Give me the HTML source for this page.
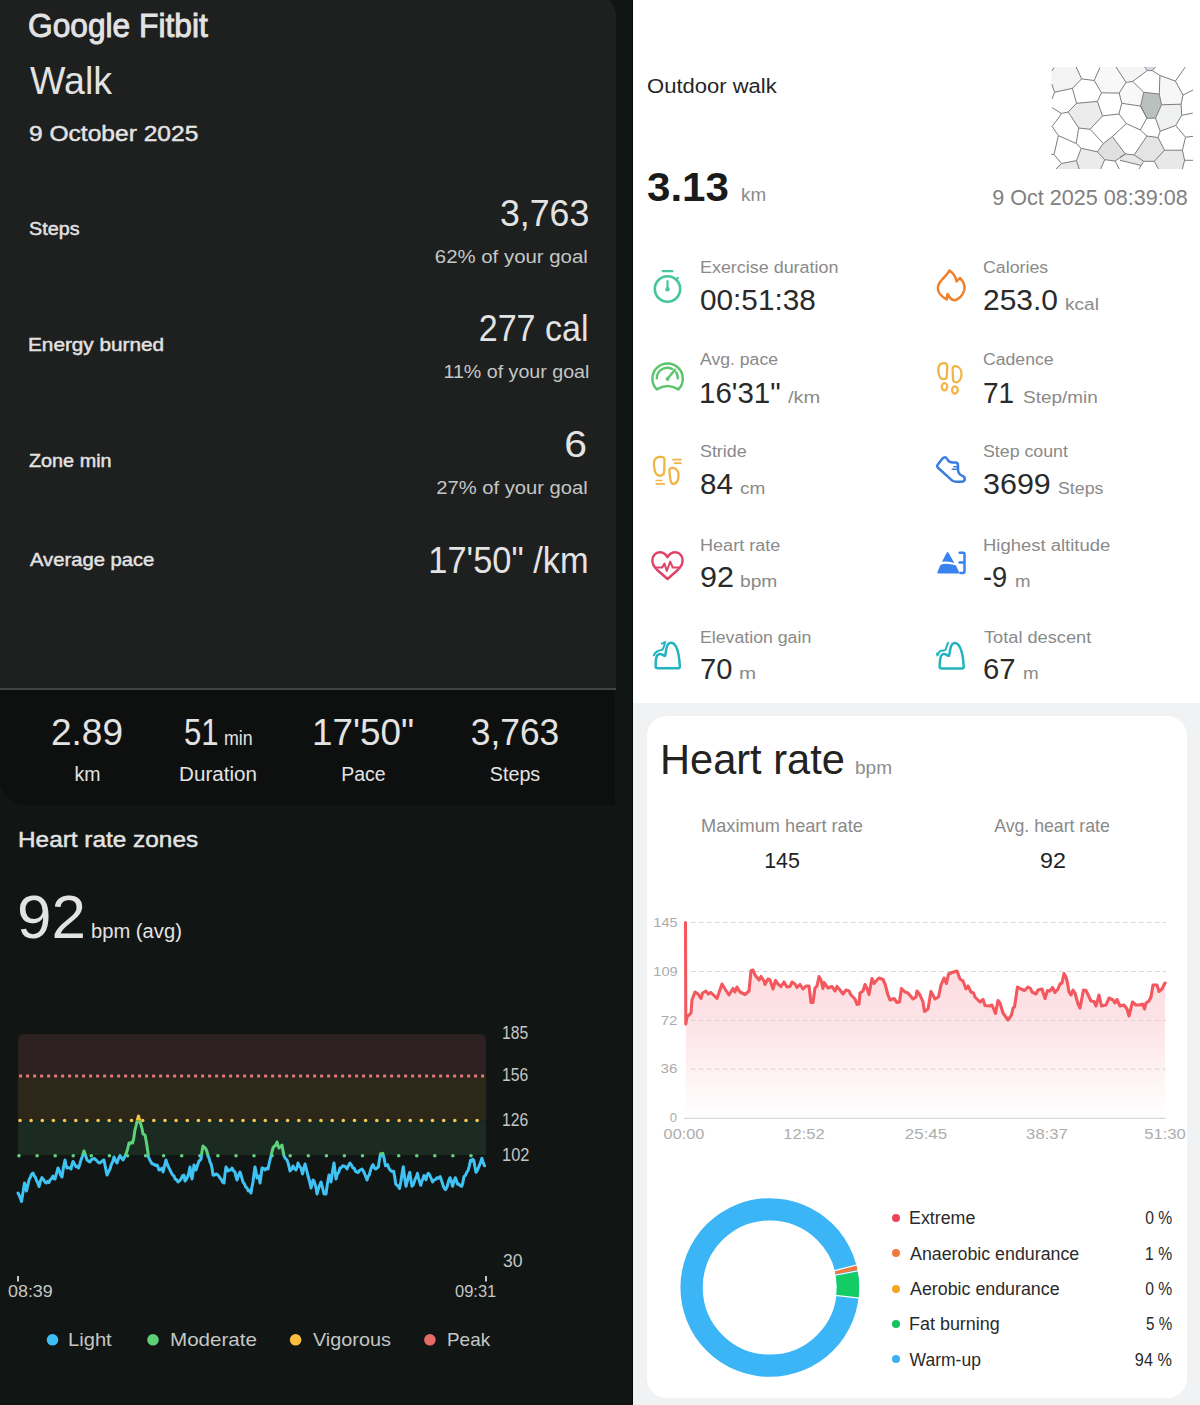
<!DOCTYPE html>
<html><head><meta charset="utf-8"><title>Walk</title><style>
*{margin:0;padding:0;box-sizing:border-box}
html,body{width:1200px;height:1405px;overflow:hidden;background:#fff}
body{position:relative;font-family:"Liberation Sans",Arial,sans-serif}
.abs{position:absolute;display:block}
.t{position:absolute;white-space:nowrap}
</style></head>
<body>
<div class="abs" style="left:0;top:0;width:633px;height:1405px;background:#111514"></div>
<div class="abs" style="left:0;top:-6px;width:616px;height:694px;background:#1e1f1f;border-top-right-radius:22px"></div>
<div class="abs" style="left:0;top:688px;width:616px;height:2px;background:#3e4543"></div>
<div class="abs" style="left:0;top:690px;width:615px;height:115px;background:#0d100f;border-bottom-left-radius:26px"></div>
<div class="abs" style="left:632px;top:0;width:1px;height:1405px;background:#050606"></div>
<div class="abs" style="left:633px;top:0;width:567px;height:703px;background:#ffffff"></div>
<div class="abs" style="left:633px;top:703px;width:567px;height:702px;background:#f1f2f4"></div>
<div class="abs" style="left:646.5px;top:716.2px;width:540.5px;height:682.3px;background:#ffffff;border-radius:20px"></div>
<svg class="abs" style="left:0;top:0" width="633" height="1405" viewBox="0 0 633 1405">
<defs><clipPath id="cb"><rect x="0" y="1155" width="633" height="250"/></clipPath><clipPath id="cg"><rect x="0" y="1120.5" width="633" height="34.5"/></clipPath><clipPath id="cy"><rect x="0" y="1000" width="633" height="120.5"/></clipPath><clipPath id="band"><rect x="18" y="1034" width="468" height="160" rx="6"/></clipPath></defs>
<g clip-path="url(#band)">
<rect x="18" y="1034" width="468" height="42" fill="#2c2020"/>
<rect x="18" y="1076" width="468" height="44.5" fill="#2c2719"/>
<rect x="18" y="1120.5" width="468" height="34.5" fill="#1b2b22"/>
</g>
<rect x="19.1" y="1074.6" width="3" height="3" rx="0.6" fill="#e2787b"/>
<rect x="26.1" y="1074.6" width="3" height="3" rx="0.6" fill="#e2787b"/>
<rect x="33.1" y="1074.6" width="3" height="3" rx="0.6" fill="#e2787b"/>
<rect x="40.1" y="1074.6" width="3" height="3" rx="0.6" fill="#e2787b"/>
<rect x="47.1" y="1074.6" width="3" height="3" rx="0.6" fill="#e2787b"/>
<rect x="54.1" y="1074.6" width="3" height="3" rx="0.6" fill="#e2787b"/>
<rect x="61.1" y="1074.6" width="3" height="3" rx="0.6" fill="#e2787b"/>
<rect x="68.1" y="1074.6" width="3" height="3" rx="0.6" fill="#e2787b"/>
<rect x="75.1" y="1074.6" width="3" height="3" rx="0.6" fill="#e2787b"/>
<rect x="82.1" y="1074.6" width="3" height="3" rx="0.6" fill="#e2787b"/>
<rect x="89.1" y="1074.6" width="3" height="3" rx="0.6" fill="#e2787b"/>
<rect x="96.1" y="1074.6" width="3" height="3" rx="0.6" fill="#e2787b"/>
<rect x="103.1" y="1074.6" width="3" height="3" rx="0.6" fill="#e2787b"/>
<rect x="110.1" y="1074.6" width="3" height="3" rx="0.6" fill="#e2787b"/>
<rect x="117.1" y="1074.6" width="3" height="3" rx="0.6" fill="#e2787b"/>
<rect x="124.1" y="1074.6" width="3" height="3" rx="0.6" fill="#e2787b"/>
<rect x="131.1" y="1074.6" width="3" height="3" rx="0.6" fill="#e2787b"/>
<rect x="138.1" y="1074.6" width="3" height="3" rx="0.6" fill="#e2787b"/>
<rect x="145.1" y="1074.6" width="3" height="3" rx="0.6" fill="#e2787b"/>
<rect x="152.1" y="1074.6" width="3" height="3" rx="0.6" fill="#e2787b"/>
<rect x="159.1" y="1074.6" width="3" height="3" rx="0.6" fill="#e2787b"/>
<rect x="166.1" y="1074.6" width="3" height="3" rx="0.6" fill="#e2787b"/>
<rect x="173.1" y="1074.6" width="3" height="3" rx="0.6" fill="#e2787b"/>
<rect x="180.1" y="1074.6" width="3" height="3" rx="0.6" fill="#e2787b"/>
<rect x="187.1" y="1074.6" width="3" height="3" rx="0.6" fill="#e2787b"/>
<rect x="194.1" y="1074.6" width="3" height="3" rx="0.6" fill="#e2787b"/>
<rect x="201.1" y="1074.6" width="3" height="3" rx="0.6" fill="#e2787b"/>
<rect x="208.1" y="1074.6" width="3" height="3" rx="0.6" fill="#e2787b"/>
<rect x="215.1" y="1074.6" width="3" height="3" rx="0.6" fill="#e2787b"/>
<rect x="222.1" y="1074.6" width="3" height="3" rx="0.6" fill="#e2787b"/>
<rect x="229.1" y="1074.6" width="3" height="3" rx="0.6" fill="#e2787b"/>
<rect x="236.1" y="1074.6" width="3" height="3" rx="0.6" fill="#e2787b"/>
<rect x="243.1" y="1074.6" width="3" height="3" rx="0.6" fill="#e2787b"/>
<rect x="250.1" y="1074.6" width="3" height="3" rx="0.6" fill="#e2787b"/>
<rect x="257.1" y="1074.6" width="3" height="3" rx="0.6" fill="#e2787b"/>
<rect x="264.1" y="1074.6" width="3" height="3" rx="0.6" fill="#e2787b"/>
<rect x="271.1" y="1074.6" width="3" height="3" rx="0.6" fill="#e2787b"/>
<rect x="278.1" y="1074.6" width="3" height="3" rx="0.6" fill="#e2787b"/>
<rect x="285.1" y="1074.6" width="3" height="3" rx="0.6" fill="#e2787b"/>
<rect x="292.1" y="1074.6" width="3" height="3" rx="0.6" fill="#e2787b"/>
<rect x="299.1" y="1074.6" width="3" height="3" rx="0.6" fill="#e2787b"/>
<rect x="306.1" y="1074.6" width="3" height="3" rx="0.6" fill="#e2787b"/>
<rect x="313.1" y="1074.6" width="3" height="3" rx="0.6" fill="#e2787b"/>
<rect x="320.1" y="1074.6" width="3" height="3" rx="0.6" fill="#e2787b"/>
<rect x="327.1" y="1074.6" width="3" height="3" rx="0.6" fill="#e2787b"/>
<rect x="334.1" y="1074.6" width="3" height="3" rx="0.6" fill="#e2787b"/>
<rect x="341.1" y="1074.6" width="3" height="3" rx="0.6" fill="#e2787b"/>
<rect x="348.1" y="1074.6" width="3" height="3" rx="0.6" fill="#e2787b"/>
<rect x="355.1" y="1074.6" width="3" height="3" rx="0.6" fill="#e2787b"/>
<rect x="362.1" y="1074.6" width="3" height="3" rx="0.6" fill="#e2787b"/>
<rect x="369.1" y="1074.6" width="3" height="3" rx="0.6" fill="#e2787b"/>
<rect x="376.1" y="1074.6" width="3" height="3" rx="0.6" fill="#e2787b"/>
<rect x="383.1" y="1074.6" width="3" height="3" rx="0.6" fill="#e2787b"/>
<rect x="390.1" y="1074.6" width="3" height="3" rx="0.6" fill="#e2787b"/>
<rect x="397.1" y="1074.6" width="3" height="3" rx="0.6" fill="#e2787b"/>
<rect x="404.1" y="1074.6" width="3" height="3" rx="0.6" fill="#e2787b"/>
<rect x="411.1" y="1074.6" width="3" height="3" rx="0.6" fill="#e2787b"/>
<rect x="418.1" y="1074.6" width="3" height="3" rx="0.6" fill="#e2787b"/>
<rect x="425.1" y="1074.6" width="3" height="3" rx="0.6" fill="#e2787b"/>
<rect x="432.1" y="1074.6" width="3" height="3" rx="0.6" fill="#e2787b"/>
<rect x="439.1" y="1074.6" width="3" height="3" rx="0.6" fill="#e2787b"/>
<rect x="446.1" y="1074.6" width="3" height="3" rx="0.6" fill="#e2787b"/>
<rect x="453.1" y="1074.6" width="3" height="3" rx="0.6" fill="#e2787b"/>
<rect x="460.1" y="1074.6" width="3" height="3" rx="0.6" fill="#e2787b"/>
<rect x="467.1" y="1074.6" width="3" height="3" rx="0.6" fill="#e2787b"/>
<rect x="474.1" y="1074.6" width="3" height="3" rx="0.6" fill="#e2787b"/>
<rect x="481.1" y="1074.6" width="3" height="3" rx="0.6" fill="#e2787b"/>
<circle cx="20.0" cy="1120.5" r="1.8" fill="#f4c652"/>
<circle cx="31.1" cy="1120.5" r="1.8" fill="#f4c652"/>
<circle cx="42.3" cy="1120.5" r="1.8" fill="#f4c652"/>
<circle cx="53.4" cy="1120.5" r="1.8" fill="#f4c652"/>
<circle cx="64.6" cy="1120.5" r="1.8" fill="#f4c652"/>
<circle cx="75.8" cy="1120.5" r="1.8" fill="#f4c652"/>
<circle cx="86.9" cy="1120.5" r="1.8" fill="#f4c652"/>
<circle cx="98.1" cy="1120.5" r="1.8" fill="#f4c652"/>
<circle cx="109.2" cy="1120.5" r="1.8" fill="#f4c652"/>
<circle cx="120.4" cy="1120.5" r="1.8" fill="#f4c652"/>
<circle cx="131.5" cy="1120.5" r="1.8" fill="#f4c652"/>
<circle cx="142.7" cy="1120.5" r="1.8" fill="#f4c652"/>
<circle cx="153.8" cy="1120.5" r="1.8" fill="#f4c652"/>
<circle cx="165.0" cy="1120.5" r="1.8" fill="#f4c652"/>
<circle cx="176.1" cy="1120.5" r="1.8" fill="#f4c652"/>
<circle cx="187.3" cy="1120.5" r="1.8" fill="#f4c652"/>
<circle cx="198.4" cy="1120.5" r="1.8" fill="#f4c652"/>
<circle cx="209.6" cy="1120.5" r="1.8" fill="#f4c652"/>
<circle cx="220.7" cy="1120.5" r="1.8" fill="#f4c652"/>
<circle cx="231.9" cy="1120.5" r="1.8" fill="#f4c652"/>
<circle cx="243.0" cy="1120.5" r="1.8" fill="#f4c652"/>
<circle cx="254.2" cy="1120.5" r="1.8" fill="#f4c652"/>
<circle cx="265.3" cy="1120.5" r="1.8" fill="#f4c652"/>
<circle cx="276.5" cy="1120.5" r="1.8" fill="#f4c652"/>
<circle cx="287.6" cy="1120.5" r="1.8" fill="#f4c652"/>
<circle cx="298.8" cy="1120.5" r="1.8" fill="#f4c652"/>
<circle cx="309.9" cy="1120.5" r="1.8" fill="#f4c652"/>
<circle cx="321.0" cy="1120.5" r="1.8" fill="#f4c652"/>
<circle cx="332.2" cy="1120.5" r="1.8" fill="#f4c652"/>
<circle cx="343.3" cy="1120.5" r="1.8" fill="#f4c652"/>
<circle cx="354.5" cy="1120.5" r="1.8" fill="#f4c652"/>
<circle cx="365.6" cy="1120.5" r="1.8" fill="#f4c652"/>
<circle cx="376.8" cy="1120.5" r="1.8" fill="#f4c652"/>
<circle cx="387.9" cy="1120.5" r="1.8" fill="#f4c652"/>
<circle cx="399.1" cy="1120.5" r="1.8" fill="#f4c652"/>
<circle cx="410.2" cy="1120.5" r="1.8" fill="#f4c652"/>
<circle cx="421.4" cy="1120.5" r="1.8" fill="#f4c652"/>
<circle cx="432.5" cy="1120.5" r="1.8" fill="#f4c652"/>
<circle cx="443.7" cy="1120.5" r="1.8" fill="#f4c652"/>
<circle cx="454.8" cy="1120.5" r="1.8" fill="#f4c652"/>
<circle cx="466.0" cy="1120.5" r="1.8" fill="#f4c652"/>
<circle cx="477.1" cy="1120.5" r="1.8" fill="#f4c652"/>
<circle cx="19.0" cy="1155.7" r="1.8" fill="#62d07c"/>
<circle cx="37.1" cy="1155.7" r="1.8" fill="#62d07c"/>
<circle cx="55.2" cy="1155.7" r="1.8" fill="#62d07c"/>
<circle cx="73.2" cy="1155.7" r="1.8" fill="#62d07c"/>
<circle cx="91.3" cy="1155.7" r="1.8" fill="#62d07c"/>
<circle cx="109.4" cy="1155.7" r="1.8" fill="#62d07c"/>
<circle cx="127.5" cy="1155.7" r="1.8" fill="#62d07c"/>
<circle cx="145.6" cy="1155.7" r="1.8" fill="#62d07c"/>
<circle cx="163.6" cy="1155.7" r="1.8" fill="#62d07c"/>
<circle cx="181.7" cy="1155.7" r="1.8" fill="#62d07c"/>
<circle cx="199.8" cy="1155.7" r="1.8" fill="#62d07c"/>
<circle cx="217.9" cy="1155.7" r="1.8" fill="#62d07c"/>
<circle cx="236.0" cy="1155.7" r="1.8" fill="#62d07c"/>
<circle cx="254.0" cy="1155.7" r="1.8" fill="#62d07c"/>
<circle cx="272.1" cy="1155.7" r="1.8" fill="#62d07c"/>
<circle cx="290.2" cy="1155.7" r="1.8" fill="#62d07c"/>
<circle cx="308.3" cy="1155.7" r="1.8" fill="#62d07c"/>
<circle cx="326.4" cy="1155.7" r="1.8" fill="#62d07c"/>
<circle cx="344.4" cy="1155.7" r="1.8" fill="#62d07c"/>
<circle cx="362.5" cy="1155.7" r="1.8" fill="#62d07c"/>
<circle cx="380.6" cy="1155.7" r="1.8" fill="#62d07c"/>
<circle cx="398.7" cy="1155.7" r="1.8" fill="#62d07c"/>
<circle cx="416.8" cy="1155.7" r="1.8" fill="#62d07c"/>
<circle cx="434.8" cy="1155.7" r="1.8" fill="#62d07c"/>
<circle cx="452.9" cy="1155.7" r="1.8" fill="#62d07c"/>
<circle cx="471.0" cy="1155.7" r="1.8" fill="#62d07c"/>
<polyline clip-path="url(#cb)" points="18.0,1193.0 19.2,1195.4 20.3,1197.8 21.5,1201.5 23.0,1192.6 24.5,1183.0 25.5,1185.9 26.5,1191.0 27.8,1185.6 29.0,1180.0 30.3,1177.3 31.7,1174.2 33.0,1173.0 34.2,1175.7 35.4,1177.2 36.6,1180.9 37.8,1182.7 39.0,1186.5 40.5,1180.9 42.0,1177.5 43.5,1179.6 45.0,1182.0 46.3,1183.0 47.7,1181.4 49.0,1182.5 50.3,1179.6 51.7,1178.5 53.0,1176.0 54.0,1178.7 55.0,1179.0 56.5,1173.7 58.0,1168.0 59.3,1170.7 60.7,1175.2 62.0,1177.0 63.5,1167.3 65.0,1160.0 66.0,1164.9 67.0,1168.0 68.3,1167.8 69.7,1167.7 71.0,1169.0 72.0,1164.3 73.0,1161.5 74.0,1162.8 75.0,1165.0 76.2,1166.8 77.3,1166.2 78.5,1168.0 79.8,1164.2 81.0,1160.0 82.5,1155.9 84.0,1151.0 85.5,1155.2 87.0,1160.0 88.5,1161.1 90.0,1162.0 91.5,1159.4 93.0,1159.0 94.3,1158.5 95.7,1159.6 97.0,1161.0 98.5,1162.5 100.0,1163.0 101.3,1161.8 102.7,1160.5 104.0,1160.0 105.5,1167.7 107.0,1175.0 108.5,1171.9 110.0,1169.0 111.3,1164.5 112.7,1161.8 114.0,1157.0 115.5,1160.5 117.0,1163.0 118.5,1158.6 120.0,1155.5 121.5,1157.9 123.0,1160.0 124.5,1157.1 126.0,1154.0 127.5,1149.5 129.0,1143.0 130.2,1143.6 131.3,1142.4 132.5,1143.0 133.7,1138.6 134.8,1130.7 136.0,1126.0 137.2,1120.8 138.5,1116.0 139.8,1121.2 141.0,1125.0 142.0,1128.6 143.0,1134.0 144.0,1134.5 145.0,1135.0 146.5,1142.8 148.0,1153.0 148.5,1157.0 149.8,1159.9 151.0,1162.0 152.0,1163.7 153.0,1164.0 154.3,1164.5 155.7,1165.6 157.0,1165.0 158.0,1167.0 159.0,1170.0 160.5,1169.5 162.0,1168.0 163.0,1172.0 164.5,1166.2 166.0,1160.0 167.0,1163.2 168.0,1166.0 169.5,1168.9 171.0,1172.0 172.5,1174.9 174.0,1176.0 175.3,1179.2 176.7,1179.9 178.0,1182.0 179.5,1180.9 181.0,1179.0 182.5,1175.9 184.0,1175.0 185.0,1181.0 186.5,1179.0 188.0,1176.0 189.0,1171.9 190.0,1167.0 191.0,1174.3 192.0,1179.0 193.0,1172.8 194.0,1165.0 195.0,1166.9 196.0,1170.0 197.5,1165.2 199.0,1161.0 200.0,1160.4 201.0,1159.0 202.0,1151.3 203.0,1146.0 204.5,1147.4 206.0,1149.0 207.0,1151.6 208.0,1156.0 209.0,1158.0 210.0,1162.0 211.0,1163.9 212.0,1168.0 213.0,1175.0 214.5,1175.2 216.0,1174.0 217.3,1174.4 218.7,1176.0 220.0,1178.0 221.3,1179.4 222.7,1182.3 224.0,1183.0 225.0,1173.9 226.0,1167.0 227.0,1168.9 228.0,1171.0 229.3,1170.1 230.7,1170.0 232.0,1168.0 233.5,1170.8 235.0,1172.0 236.0,1176.9 237.0,1180.0 238.5,1175.4 240.0,1172.0 241.5,1176.8 243.0,1182.0 244.3,1183.6 245.7,1187.0 247.0,1188.0 248.3,1190.9 249.7,1190.4 251.0,1193.0 252.0,1186.7 253.0,1182.0 254.0,1173.8 255.0,1167.0 256.0,1171.8 257.0,1178.0 258.0,1177.0 259.0,1176.0 260.0,1183.0 261.0,1175.7 262.0,1168.0 263.5,1168.4 265.0,1170.0 266.5,1168.2 268.0,1169.0 269.0,1164.3 270.0,1160.0 271.5,1153.7 273.0,1148.0 274.3,1146.2 275.7,1145.2 277.0,1142.0 278.0,1145.5 279.0,1148.0 280.5,1146.5 282.0,1145.0 283.0,1150.8 284.0,1156.0 285.5,1158.5 287.0,1160.0 288.5,1164.3 290.0,1171.0 291.5,1169.5 293.0,1166.0 294.5,1168.7 296.0,1170.0 297.0,1167.5 298.0,1163.0 299.5,1166.3 301.0,1168.0 302.5,1174.0 303.8,1168.7 305.0,1164.0 306.5,1169.7 308.0,1176.0 309.5,1181.0 311.0,1188.0 312.0,1184.3 313.0,1180.0 314.0,1180.9 315.0,1184.0 316.0,1187.9 317.0,1194.0 318.3,1189.2 319.7,1185.1 321.0,1182.0 322.5,1187.6 324.0,1194.0 325.0,1192.8 326.0,1194.0 327.5,1183.2 329.0,1175.0 330.0,1177.6 331.0,1182.0 332.5,1171.5 334.0,1163.0 335.0,1170.6 336.0,1179.0 337.3,1174.1 338.7,1172.6 340.0,1168.0 341.3,1167.6 342.7,1165.8 344.0,1166.0 345.5,1166.9 347.0,1169.0 348.5,1165.6 350.0,1163.0 351.5,1165.1 353.0,1168.0 354.3,1168.4 355.7,1171.6 357.0,1172.0 358.2,1172.5 359.5,1170.4 360.8,1169.7 362.0,1169.0 363.2,1170.7 364.5,1173.5 365.8,1176.8 367.0,1180.0 368.2,1176.3 369.4,1174.7 370.6,1169.9 371.8,1166.5 373.0,1164.7 374.4,1168.0 375.7,1169.0 377.0,1168.0 378.4,1166.8 379.5,1159.4 380.6,1153.8 381.7,1153.7 382.8,1153.3 384.1,1158.3 385.5,1165.8 386.6,1165.3 387.6,1164.7 389.0,1168.6 390.3,1170.0 391.4,1171.3 392.5,1171.3 393.6,1171.2 394.7,1177.1 395.8,1184.2 397.0,1185.3 398.3,1186.2 399.5,1188.5 400.8,1182.0 402.0,1174.1 403.3,1166.8 404.6,1177.3 406.0,1186.3 407.3,1181.2 408.5,1176.2 409.8,1172.3 410.9,1180.1 412.0,1186.3 413.1,1185.1 414.2,1182.2 415.3,1178.8 416.4,1176.8 417.4,1173.3 418.5,1178.1 419.6,1181.9 420.7,1185.3 421.8,1181.3 422.9,1178.8 424.0,1175.5 425.0,1177.3 426.0,1179.8 427.1,1175.3 428.3,1173.3 429.7,1175.0 431.2,1178.5 432.6,1182.0 434.1,1179.9 435.5,1179.6 437.0,1177.7 438.6,1178.3 440.2,1176.6 441.2,1179.7 442.3,1183.0 443.4,1186.3 444.5,1188.7 445.6,1189.6 447.1,1186.8 448.5,1181.3 450.0,1177.7 451.3,1181.3 452.6,1186.3 454.0,1181.3 455.3,1177.7 456.4,1180.2 457.5,1184.2 458.9,1184.1 460.4,1185.9 461.8,1186.3 462.9,1182.5 464.0,1176.6 465.4,1175.3 466.9,1172.1 468.3,1170.0 469.4,1165.5 470.5,1160.3 471.6,1161.1 472.7,1159.2 473.8,1160.3 474.9,1166.7 476.0,1172.3 477.6,1170.1 479.2,1165.8 480.5,1162.7 481.9,1158.2 483.2,1162.7 484.6,1165.8" fill="none" stroke="#3fc3f4" stroke-width="3.0" stroke-linejoin="round" stroke-linecap="round"/>
<polyline clip-path="url(#cg)" points="18.0,1193.0 19.2,1195.4 20.3,1197.8 21.5,1201.5 23.0,1192.6 24.5,1183.0 25.5,1185.9 26.5,1191.0 27.8,1185.6 29.0,1180.0 30.3,1177.3 31.7,1174.2 33.0,1173.0 34.2,1175.7 35.4,1177.2 36.6,1180.9 37.8,1182.7 39.0,1186.5 40.5,1180.9 42.0,1177.5 43.5,1179.6 45.0,1182.0 46.3,1183.0 47.7,1181.4 49.0,1182.5 50.3,1179.6 51.7,1178.5 53.0,1176.0 54.0,1178.7 55.0,1179.0 56.5,1173.7 58.0,1168.0 59.3,1170.7 60.7,1175.2 62.0,1177.0 63.5,1167.3 65.0,1160.0 66.0,1164.9 67.0,1168.0 68.3,1167.8 69.7,1167.7 71.0,1169.0 72.0,1164.3 73.0,1161.5 74.0,1162.8 75.0,1165.0 76.2,1166.8 77.3,1166.2 78.5,1168.0 79.8,1164.2 81.0,1160.0 82.5,1155.9 84.0,1151.0 85.5,1155.2 87.0,1160.0 88.5,1161.1 90.0,1162.0 91.5,1159.4 93.0,1159.0 94.3,1158.5 95.7,1159.6 97.0,1161.0 98.5,1162.5 100.0,1163.0 101.3,1161.8 102.7,1160.5 104.0,1160.0 105.5,1167.7 107.0,1175.0 108.5,1171.9 110.0,1169.0 111.3,1164.5 112.7,1161.8 114.0,1157.0 115.5,1160.5 117.0,1163.0 118.5,1158.6 120.0,1155.5 121.5,1157.9 123.0,1160.0 124.5,1157.1 126.0,1154.0 127.5,1149.5 129.0,1143.0 130.2,1143.6 131.3,1142.4 132.5,1143.0 133.7,1138.6 134.8,1130.7 136.0,1126.0 137.2,1120.8 138.5,1116.0 139.8,1121.2 141.0,1125.0 142.0,1128.6 143.0,1134.0 144.0,1134.5 145.0,1135.0 146.5,1142.8 148.0,1153.0 148.5,1157.0 149.8,1159.9 151.0,1162.0 152.0,1163.7 153.0,1164.0 154.3,1164.5 155.7,1165.6 157.0,1165.0 158.0,1167.0 159.0,1170.0 160.5,1169.5 162.0,1168.0 163.0,1172.0 164.5,1166.2 166.0,1160.0 167.0,1163.2 168.0,1166.0 169.5,1168.9 171.0,1172.0 172.5,1174.9 174.0,1176.0 175.3,1179.2 176.7,1179.9 178.0,1182.0 179.5,1180.9 181.0,1179.0 182.5,1175.9 184.0,1175.0 185.0,1181.0 186.5,1179.0 188.0,1176.0 189.0,1171.9 190.0,1167.0 191.0,1174.3 192.0,1179.0 193.0,1172.8 194.0,1165.0 195.0,1166.9 196.0,1170.0 197.5,1165.2 199.0,1161.0 200.0,1160.4 201.0,1159.0 202.0,1151.3 203.0,1146.0 204.5,1147.4 206.0,1149.0 207.0,1151.6 208.0,1156.0 209.0,1158.0 210.0,1162.0 211.0,1163.9 212.0,1168.0 213.0,1175.0 214.5,1175.2 216.0,1174.0 217.3,1174.4 218.7,1176.0 220.0,1178.0 221.3,1179.4 222.7,1182.3 224.0,1183.0 225.0,1173.9 226.0,1167.0 227.0,1168.9 228.0,1171.0 229.3,1170.1 230.7,1170.0 232.0,1168.0 233.5,1170.8 235.0,1172.0 236.0,1176.9 237.0,1180.0 238.5,1175.4 240.0,1172.0 241.5,1176.8 243.0,1182.0 244.3,1183.6 245.7,1187.0 247.0,1188.0 248.3,1190.9 249.7,1190.4 251.0,1193.0 252.0,1186.7 253.0,1182.0 254.0,1173.8 255.0,1167.0 256.0,1171.8 257.0,1178.0 258.0,1177.0 259.0,1176.0 260.0,1183.0 261.0,1175.7 262.0,1168.0 263.5,1168.4 265.0,1170.0 266.5,1168.2 268.0,1169.0 269.0,1164.3 270.0,1160.0 271.5,1153.7 273.0,1148.0 274.3,1146.2 275.7,1145.2 277.0,1142.0 278.0,1145.5 279.0,1148.0 280.5,1146.5 282.0,1145.0 283.0,1150.8 284.0,1156.0 285.5,1158.5 287.0,1160.0 288.5,1164.3 290.0,1171.0 291.5,1169.5 293.0,1166.0 294.5,1168.7 296.0,1170.0 297.0,1167.5 298.0,1163.0 299.5,1166.3 301.0,1168.0 302.5,1174.0 303.8,1168.7 305.0,1164.0 306.5,1169.7 308.0,1176.0 309.5,1181.0 311.0,1188.0 312.0,1184.3 313.0,1180.0 314.0,1180.9 315.0,1184.0 316.0,1187.9 317.0,1194.0 318.3,1189.2 319.7,1185.1 321.0,1182.0 322.5,1187.6 324.0,1194.0 325.0,1192.8 326.0,1194.0 327.5,1183.2 329.0,1175.0 330.0,1177.6 331.0,1182.0 332.5,1171.5 334.0,1163.0 335.0,1170.6 336.0,1179.0 337.3,1174.1 338.7,1172.6 340.0,1168.0 341.3,1167.6 342.7,1165.8 344.0,1166.0 345.5,1166.9 347.0,1169.0 348.5,1165.6 350.0,1163.0 351.5,1165.1 353.0,1168.0 354.3,1168.4 355.7,1171.6 357.0,1172.0 358.2,1172.5 359.5,1170.4 360.8,1169.7 362.0,1169.0 363.2,1170.7 364.5,1173.5 365.8,1176.8 367.0,1180.0 368.2,1176.3 369.4,1174.7 370.6,1169.9 371.8,1166.5 373.0,1164.7 374.4,1168.0 375.7,1169.0 377.0,1168.0 378.4,1166.8 379.5,1159.4 380.6,1153.8 381.7,1153.7 382.8,1153.3 384.1,1158.3 385.5,1165.8 386.6,1165.3 387.6,1164.7 389.0,1168.6 390.3,1170.0 391.4,1171.3 392.5,1171.3 393.6,1171.2 394.7,1177.1 395.8,1184.2 397.0,1185.3 398.3,1186.2 399.5,1188.5 400.8,1182.0 402.0,1174.1 403.3,1166.8 404.6,1177.3 406.0,1186.3 407.3,1181.2 408.5,1176.2 409.8,1172.3 410.9,1180.1 412.0,1186.3 413.1,1185.1 414.2,1182.2 415.3,1178.8 416.4,1176.8 417.4,1173.3 418.5,1178.1 419.6,1181.9 420.7,1185.3 421.8,1181.3 422.9,1178.8 424.0,1175.5 425.0,1177.3 426.0,1179.8 427.1,1175.3 428.3,1173.3 429.7,1175.0 431.2,1178.5 432.6,1182.0 434.1,1179.9 435.5,1179.6 437.0,1177.7 438.6,1178.3 440.2,1176.6 441.2,1179.7 442.3,1183.0 443.4,1186.3 444.5,1188.7 445.6,1189.6 447.1,1186.8 448.5,1181.3 450.0,1177.7 451.3,1181.3 452.6,1186.3 454.0,1181.3 455.3,1177.7 456.4,1180.2 457.5,1184.2 458.9,1184.1 460.4,1185.9 461.8,1186.3 462.9,1182.5 464.0,1176.6 465.4,1175.3 466.9,1172.1 468.3,1170.0 469.4,1165.5 470.5,1160.3 471.6,1161.1 472.7,1159.2 473.8,1160.3 474.9,1166.7 476.0,1172.3 477.6,1170.1 479.2,1165.8 480.5,1162.7 481.9,1158.2 483.2,1162.7 484.6,1165.8" fill="none" stroke="#5ed27a" stroke-width="3.0" stroke-linejoin="round" stroke-linecap="round"/>
<polyline clip-path="url(#cy)" points="18.0,1193.0 19.2,1195.4 20.3,1197.8 21.5,1201.5 23.0,1192.6 24.5,1183.0 25.5,1185.9 26.5,1191.0 27.8,1185.6 29.0,1180.0 30.3,1177.3 31.7,1174.2 33.0,1173.0 34.2,1175.7 35.4,1177.2 36.6,1180.9 37.8,1182.7 39.0,1186.5 40.5,1180.9 42.0,1177.5 43.5,1179.6 45.0,1182.0 46.3,1183.0 47.7,1181.4 49.0,1182.5 50.3,1179.6 51.7,1178.5 53.0,1176.0 54.0,1178.7 55.0,1179.0 56.5,1173.7 58.0,1168.0 59.3,1170.7 60.7,1175.2 62.0,1177.0 63.5,1167.3 65.0,1160.0 66.0,1164.9 67.0,1168.0 68.3,1167.8 69.7,1167.7 71.0,1169.0 72.0,1164.3 73.0,1161.5 74.0,1162.8 75.0,1165.0 76.2,1166.8 77.3,1166.2 78.5,1168.0 79.8,1164.2 81.0,1160.0 82.5,1155.9 84.0,1151.0 85.5,1155.2 87.0,1160.0 88.5,1161.1 90.0,1162.0 91.5,1159.4 93.0,1159.0 94.3,1158.5 95.7,1159.6 97.0,1161.0 98.5,1162.5 100.0,1163.0 101.3,1161.8 102.7,1160.5 104.0,1160.0 105.5,1167.7 107.0,1175.0 108.5,1171.9 110.0,1169.0 111.3,1164.5 112.7,1161.8 114.0,1157.0 115.5,1160.5 117.0,1163.0 118.5,1158.6 120.0,1155.5 121.5,1157.9 123.0,1160.0 124.5,1157.1 126.0,1154.0 127.5,1149.5 129.0,1143.0 130.2,1143.6 131.3,1142.4 132.5,1143.0 133.7,1138.6 134.8,1130.7 136.0,1126.0 137.2,1120.8 138.5,1116.0 139.8,1121.2 141.0,1125.0 142.0,1128.6 143.0,1134.0 144.0,1134.5 145.0,1135.0 146.5,1142.8 148.0,1153.0 148.5,1157.0 149.8,1159.9 151.0,1162.0 152.0,1163.7 153.0,1164.0 154.3,1164.5 155.7,1165.6 157.0,1165.0 158.0,1167.0 159.0,1170.0 160.5,1169.5 162.0,1168.0 163.0,1172.0 164.5,1166.2 166.0,1160.0 167.0,1163.2 168.0,1166.0 169.5,1168.9 171.0,1172.0 172.5,1174.9 174.0,1176.0 175.3,1179.2 176.7,1179.9 178.0,1182.0 179.5,1180.9 181.0,1179.0 182.5,1175.9 184.0,1175.0 185.0,1181.0 186.5,1179.0 188.0,1176.0 189.0,1171.9 190.0,1167.0 191.0,1174.3 192.0,1179.0 193.0,1172.8 194.0,1165.0 195.0,1166.9 196.0,1170.0 197.5,1165.2 199.0,1161.0 200.0,1160.4 201.0,1159.0 202.0,1151.3 203.0,1146.0 204.5,1147.4 206.0,1149.0 207.0,1151.6 208.0,1156.0 209.0,1158.0 210.0,1162.0 211.0,1163.9 212.0,1168.0 213.0,1175.0 214.5,1175.2 216.0,1174.0 217.3,1174.4 218.7,1176.0 220.0,1178.0 221.3,1179.4 222.7,1182.3 224.0,1183.0 225.0,1173.9 226.0,1167.0 227.0,1168.9 228.0,1171.0 229.3,1170.1 230.7,1170.0 232.0,1168.0 233.5,1170.8 235.0,1172.0 236.0,1176.9 237.0,1180.0 238.5,1175.4 240.0,1172.0 241.5,1176.8 243.0,1182.0 244.3,1183.6 245.7,1187.0 247.0,1188.0 248.3,1190.9 249.7,1190.4 251.0,1193.0 252.0,1186.7 253.0,1182.0 254.0,1173.8 255.0,1167.0 256.0,1171.8 257.0,1178.0 258.0,1177.0 259.0,1176.0 260.0,1183.0 261.0,1175.7 262.0,1168.0 263.5,1168.4 265.0,1170.0 266.5,1168.2 268.0,1169.0 269.0,1164.3 270.0,1160.0 271.5,1153.7 273.0,1148.0 274.3,1146.2 275.7,1145.2 277.0,1142.0 278.0,1145.5 279.0,1148.0 280.5,1146.5 282.0,1145.0 283.0,1150.8 284.0,1156.0 285.5,1158.5 287.0,1160.0 288.5,1164.3 290.0,1171.0 291.5,1169.5 293.0,1166.0 294.5,1168.7 296.0,1170.0 297.0,1167.5 298.0,1163.0 299.5,1166.3 301.0,1168.0 302.5,1174.0 303.8,1168.7 305.0,1164.0 306.5,1169.7 308.0,1176.0 309.5,1181.0 311.0,1188.0 312.0,1184.3 313.0,1180.0 314.0,1180.9 315.0,1184.0 316.0,1187.9 317.0,1194.0 318.3,1189.2 319.7,1185.1 321.0,1182.0 322.5,1187.6 324.0,1194.0 325.0,1192.8 326.0,1194.0 327.5,1183.2 329.0,1175.0 330.0,1177.6 331.0,1182.0 332.5,1171.5 334.0,1163.0 335.0,1170.6 336.0,1179.0 337.3,1174.1 338.7,1172.6 340.0,1168.0 341.3,1167.6 342.7,1165.8 344.0,1166.0 345.5,1166.9 347.0,1169.0 348.5,1165.6 350.0,1163.0 351.5,1165.1 353.0,1168.0 354.3,1168.4 355.7,1171.6 357.0,1172.0 358.2,1172.5 359.5,1170.4 360.8,1169.7 362.0,1169.0 363.2,1170.7 364.5,1173.5 365.8,1176.8 367.0,1180.0 368.2,1176.3 369.4,1174.7 370.6,1169.9 371.8,1166.5 373.0,1164.7 374.4,1168.0 375.7,1169.0 377.0,1168.0 378.4,1166.8 379.5,1159.4 380.6,1153.8 381.7,1153.7 382.8,1153.3 384.1,1158.3 385.5,1165.8 386.6,1165.3 387.6,1164.7 389.0,1168.6 390.3,1170.0 391.4,1171.3 392.5,1171.3 393.6,1171.2 394.7,1177.1 395.8,1184.2 397.0,1185.3 398.3,1186.2 399.5,1188.5 400.8,1182.0 402.0,1174.1 403.3,1166.8 404.6,1177.3 406.0,1186.3 407.3,1181.2 408.5,1176.2 409.8,1172.3 410.9,1180.1 412.0,1186.3 413.1,1185.1 414.2,1182.2 415.3,1178.8 416.4,1176.8 417.4,1173.3 418.5,1178.1 419.6,1181.9 420.7,1185.3 421.8,1181.3 422.9,1178.8 424.0,1175.5 425.0,1177.3 426.0,1179.8 427.1,1175.3 428.3,1173.3 429.7,1175.0 431.2,1178.5 432.6,1182.0 434.1,1179.9 435.5,1179.6 437.0,1177.7 438.6,1178.3 440.2,1176.6 441.2,1179.7 442.3,1183.0 443.4,1186.3 444.5,1188.7 445.6,1189.6 447.1,1186.8 448.5,1181.3 450.0,1177.7 451.3,1181.3 452.6,1186.3 454.0,1181.3 455.3,1177.7 456.4,1180.2 457.5,1184.2 458.9,1184.1 460.4,1185.9 461.8,1186.3 462.9,1182.5 464.0,1176.6 465.4,1175.3 466.9,1172.1 468.3,1170.0 469.4,1165.5 470.5,1160.3 471.6,1161.1 472.7,1159.2 473.8,1160.3 474.9,1166.7 476.0,1172.3 477.6,1170.1 479.2,1165.8 480.5,1162.7 481.9,1158.2 483.2,1162.7 484.6,1165.8" fill="none" stroke="#f6c146" stroke-width="3.0" stroke-linejoin="round" stroke-linecap="round"/>
<rect x="17" y="1276" width="2" height="5.5" fill="#c4c7c5"/>
<rect x="485" y="1276" width="2" height="5.5" fill="#c4c7c5"/>
<circle cx="52.5" cy="1339.8" r="5.8" fill="#3fbdf5"/>
<circle cx="153.0" cy="1339.8" r="5.8" fill="#5dcf75"/>
<circle cx="295.6" cy="1339.8" r="5.8" fill="#fbbd3e"/>
<circle cx="429.9" cy="1339.8" r="5.8" fill="#e46b66"/>
</svg>
<svg class="abs" style="left:1051px;top:67px" width="142" height="102" viewBox="1051 67 142 102">
<polygon points="1051.0,67.0 1076.2,67.0 1081.6,78.9 1072.4,88.4 1054.6,92.2 1051.8,84.3" fill="#f3f3f3"/>
<polygon points="1076.5,103.3 1097.4,101.4 1102.5,115.9 1090.1,129.3 1078.7,128.0 1070.5,115.5 1068.0,112.1" fill="#ececec"/>
<polygon points="1143.7,92.2 1159.3,94.1 1161.5,104.8 1155.5,118.2 1146.9,118.2 1140.6,106.1" fill="#b9c1be"/>
<polygon points="1144.7,67.0 1155.5,67.0 1152.3,70.6 1147.2,70.6" fill="#d4d8e6"/>
<polygon points="1161.5,104.8 1181.1,104.2 1181.7,115.3 1175.7,125.5 1160.2,131.2 1155.5,118.2" fill="#eff1f0"/>
<polygon points="1103.4,143.5 1112.3,136.6 1125.4,154.0 1115.1,161.0 1104.7,159.7 1097.4,151.8" fill="#e0e0e0"/>
<polygon points="1081.2,148.3 1097.4,151.8 1104.7,159.7 1100.6,169.0 1079.3,169.0 1076.5,160.6" fill="#ebebeb"/>
<polygon points="1061.6,163.5 1076.5,160.6 1079.3,169.0 1055.9,169.0" fill="#e8e8e8"/>
<polygon points="1146.9,136.0 1158.0,137.5 1164.6,150.2 1154.2,161.3 1143.7,161.3 1134.2,154.9" fill="#e4e4e4"/>
<polygon points="1164.6,150.2 1182.4,150.2 1184.6,160.3 1182.4,169.0 1158.6,169.0 1154.2,161.3" fill="#e8e8e8"/>
<polygon points="1120.0,157.2 1125.4,154.0 1134.2,154.9 1143.7,161.3 1140.9,165.4 1120.0,160.3" fill="#e6e6e6"/>
<polygon points="1159.9,75.4 1175.4,81.1 1183.0,95.0 1181.1,104.2 1161.5,104.8 1159.3,94.1" fill="#f7f7f7"/>
<polygon points="1116.1,67.0 1144.7,67.0 1146.6,71.0 1132.7,81.4 1126.0,82.4" fill="#f5f5f5"/>
<polygon points="1099.9,67.0 1116.1,67.0 1126.0,82.4 1119.2,93.1 1101.5,92.8 1094.2,80.5" fill="#f8f8f8"/>
<polygon points="1126.0,82.4 1132.7,81.4 1143.7,92.2 1140.6,106.1 1121.8,103.3 1119.2,93.1" fill="#f8f8f8"/>
<polyline points="1054.0,67.8 1051.8,71.0" fill="none" stroke="#7d7d7d" stroke-width="1" stroke-linejoin="round"/>
<polyline points="1076.2,66.8 1081.6,78.9 1094.2,80.5 1099.9,67.5" fill="none" stroke="#7d7d7d" stroke-width="1" stroke-linejoin="round"/>
<polyline points="1081.6,78.9 1072.4,88.4 1054.6,92.2 1051.8,84.3" fill="none" stroke="#7d7d7d" stroke-width="1" stroke-linejoin="round"/>
<polyline points="1054.6,92.2 1052.1,98.8" fill="none" stroke="#7d7d7d" stroke-width="1" stroke-linejoin="round"/>
<polyline points="1072.4,88.4 1076.5,103.3 1068.0,112.1 1061.3,113.4 1052.1,107.7" fill="none" stroke="#7d7d7d" stroke-width="1" stroke-linejoin="round"/>
<polyline points="1094.2,80.5 1101.5,92.8 1119.2,93.1 1126.0,82.4 1132.7,81.4 1146.6,71.0 1147.2,70.6 1144.7,67.0" fill="none" stroke="#7d7d7d" stroke-width="1" stroke-linejoin="round"/>
<polyline points="1101.5,92.8 1097.4,101.4 1076.5,103.3" fill="none" stroke="#7d7d7d" stroke-width="1" stroke-linejoin="round"/>
<polyline points="1061.3,113.4 1060.0,116.0 1052.1,126.4 1058.4,135.6 1076.2,143.5 1078.7,128.0 1070.5,115.5 1068.0,112.1" fill="none" stroke="#7d7d7d" stroke-width="1" stroke-linejoin="round"/>
<polyline points="1097.4,101.4 1102.5,115.9 1090.1,129.3 1078.7,128.0" fill="none" stroke="#7d7d7d" stroke-width="1" stroke-linejoin="round"/>
<polyline points="1102.5,115.9 1118.9,114.0 1121.8,103.3 1119.2,93.1" fill="none" stroke="#7d7d7d" stroke-width="1" stroke-linejoin="round"/>
<polyline points="1116.1,67.0 1126.0,82.4" fill="none" stroke="#7d7d7d" stroke-width="1" stroke-linejoin="round"/>
<polyline points="1118.9,114.0 1126.3,123.6 1140.3,129.9 1146.9,118.2 1140.6,106.1 1121.8,103.3" fill="none" stroke="#7d7d7d" stroke-width="1" stroke-linejoin="round"/>
<polyline points="1126.3,123.6 1112.3,136.6 1103.4,143.5 1090.1,129.3" fill="none" stroke="#7d7d7d" stroke-width="1" stroke-linejoin="round"/>
<polyline points="1112.3,136.6 1125.4,154.0 1134.2,154.9 1146.9,136.0 1140.3,129.9" fill="none" stroke="#7d7d7d" stroke-width="1" stroke-linejoin="round"/>
<polyline points="1125.4,154.0 1115.1,161.0 1104.7,159.7 1097.4,151.8 1103.4,143.5" fill="none" stroke="#7d7d7d" stroke-width="1" stroke-linejoin="round"/>
<polyline points="1115.1,161.0 1119.2,169.0" fill="none" stroke="#7d7d7d" stroke-width="1" stroke-linejoin="round"/>
<polyline points="1104.7,159.7 1100.6,169.0" fill="none" stroke="#7d7d7d" stroke-width="1" stroke-linejoin="round"/>
<polyline points="1097.4,151.8 1081.2,148.3 1076.2,143.5" fill="none" stroke="#7d7d7d" stroke-width="1" stroke-linejoin="round"/>
<polyline points="1081.2,148.3 1076.5,160.6 1079.3,169.0" fill="none" stroke="#7d7d7d" stroke-width="1" stroke-linejoin="round"/>
<polyline points="1076.5,160.6 1061.6,163.5 1055.9,169.0" fill="none" stroke="#7d7d7d" stroke-width="1" stroke-linejoin="round"/>
<polyline points="1061.6,163.5 1054.0,154.6 1058.4,135.6" fill="none" stroke="#7d7d7d" stroke-width="1" stroke-linejoin="round"/>
<polyline points="1054.0,154.6 1051.0,154.2" fill="none" stroke="#7d7d7d" stroke-width="1" stroke-linejoin="round"/>
<polyline points="1132.7,81.4 1143.7,92.2 1159.3,94.1 1161.5,104.8 1155.5,118.2 1146.9,118.2 1140.6,106.1 1143.7,92.2" fill="none" stroke="#7d7d7d" stroke-width="1" stroke-linejoin="round"/>
<polyline points="1152.3,70.6 1159.9,75.4 1175.4,81.1 1185.2,67.2" fill="none" stroke="#7d7d7d" stroke-width="1" stroke-linejoin="round"/>
<polyline points="1155.5,67.0 1152.3,70.6 1147.2,70.6" fill="none" stroke="#7d7d7d" stroke-width="1" stroke-linejoin="round"/>
<polyline points="1159.9,75.4 1159.3,94.1" fill="none" stroke="#7d7d7d" stroke-width="1" stroke-linejoin="round"/>
<polyline points="1175.4,81.1 1183.0,95.0 1193.0,90.0" fill="none" stroke="#7d7d7d" stroke-width="1" stroke-linejoin="round"/>
<polyline points="1183.0,95.0 1181.1,104.2 1161.5,104.8" fill="none" stroke="#7d7d7d" stroke-width="1" stroke-linejoin="round"/>
<polyline points="1181.1,104.2 1181.7,115.3 1192.8,113.1" fill="none" stroke="#7d7d7d" stroke-width="1" stroke-linejoin="round"/>
<polyline points="1181.7,115.3 1175.7,125.5 1160.2,131.2 1155.5,118.2" fill="none" stroke="#7d7d7d" stroke-width="1" stroke-linejoin="round"/>
<polyline points="1175.7,125.5 1185.5,137.2 1193.5,136.3" fill="none" stroke="#7d7d7d" stroke-width="1" stroke-linejoin="round"/>
<polyline points="1185.5,137.2 1182.4,150.2 1164.6,150.2 1158.0,137.5 1160.2,131.2" fill="none" stroke="#7d7d7d" stroke-width="1" stroke-linejoin="round"/>
<polyline points="1158.0,137.5 1146.9,136.0" fill="none" stroke="#7d7d7d" stroke-width="1" stroke-linejoin="round"/>
<polyline points="1182.4,150.2 1184.6,160.3 1193.5,160.3" fill="none" stroke="#7d7d7d" stroke-width="1" stroke-linejoin="round"/>
<polyline points="1184.6,160.3 1182.4,169.0" fill="none" stroke="#7d7d7d" stroke-width="1" stroke-linejoin="round"/>
<polyline points="1164.6,150.2 1154.2,161.3 1143.7,161.3 1134.2,154.9" fill="none" stroke="#7d7d7d" stroke-width="1" stroke-linejoin="round"/>
<polyline points="1154.2,161.3 1158.6,169.0" fill="none" stroke="#7d7d7d" stroke-width="1" stroke-linejoin="round"/>
<polyline points="1143.7,161.3 1139.0,169.0" fill="none" stroke="#7d7d7d" stroke-width="1" stroke-linejoin="round"/>
<polyline points="1120.0,160.3 1140.9,165.4" fill="none" stroke="#7d7d7d" stroke-width="1" stroke-linejoin="round"/>
<polyline points="1125.4,154.0 1120.0,157.2" fill="none" stroke="#7d7d7d" stroke-width="1" stroke-linejoin="round"/>
</svg>
<svg class="abs" style="left:645px;top:263px" width="50" height="50" viewBox="0 0 50 50"><g fill="none" stroke="#45c79a" stroke-width="2.6" stroke-linecap="round"><circle cx="22.5" cy="26" r="12.7"/><line x1="17.6" y1="8.1" x2="27.4" y2="8.1" stroke-width="2.2"/><line x1="22.5" y1="18" x2="22.5" y2="25" stroke-width="2.2"/><line x1="31.6" y1="16.2" x2="33" y2="14.8" stroke-width="2"/></g><circle cx="22.5" cy="26.2" r="2.2" fill="#45c79a"/></svg>
<svg class="abs" style="left:645px;top:355px" width="50" height="50" viewBox="0 0 50 50"><g fill="none" stroke="#5cc46c" stroke-width="2.5" stroke-linecap="round" stroke-linejoin="round"><path d="M11.85 34.4 A15.2 15.2 0 1 1 33.35 34.4 Q22.6 27.5 11.85 34.4 Z"/><path d="M11.8 23.3 A10.5 10.5 0 0 1 27.2 14"/><path d="M31.2 17.4 A10.5 10.5 0 0 1 32.8 23.3"/><line x1="22.5" y1="23.8" x2="30" y2="14.8"/></g><circle cx="22.6" cy="23.9" r="1.9" fill="#5cc46c"/></svg>
<svg class="abs" style="left:645px;top:448px" width="50" height="50" viewBox="0 0 50 50"><g fill="none" stroke="#f0b545" stroke-width="2.3" stroke-linecap="round" stroke-linejoin="round"><path d="M15.8 8.8 C18.5 8.8 19.6 10 19.5 12.2 L19.2 23 C19.1 26.3 17.5 27.7 14.8 27.7 C11.8 27.7 10.5 25.5 9.8 22.5 C8.8 18.5 8.6 15.5 9.2 13 C10 10.2 12.5 8.8 15.8 8.8 Z"/><path d="M27.5 19.9 C30.5 19.9 33.5 22.5 33.6 27 C33.7 31.5 31.8 35.9 28.5 35.9 C26.3 35.9 25.8 34 25.4 31.5 L24.4 23.5 C24.1 21.2 25.3 19.9 27.5 19.9 Z"/><path d="M28 11.7 L36 11.7 M29.6 15.2 L36 15.2 M11.3 32.5 L16.8 32.5 M11.3 35.8 L19.3 35.8" stroke-width="1.7"/></g></svg>
<svg class="abs" style="left:645px;top:540px" width="50" height="50" viewBox="0 0 50 50"><g fill="none" stroke="#e0436a" stroke-width="2.5" stroke-linecap="round" stroke-linejoin="round"><path d="M22.5 17.2 C20.5 13.8 17.8 12.3 14.8 12.3 C10.2 12.3 7.4 16 7.4 20.5 C7.4 24.3 9.4 27.2 12 29.7 L22.5 39 L33 29.7 C35.6 27.2 37.6 24.3 37.6 20.5 C37.6 16 34.8 12.3 30.2 12.3 C27.2 12.3 24.5 13.8 22.5 17.2 Z"/><path d="M11.5 27.6 L17 27.6 L19.5 23.6 L21.8 31 L25.2 21.6 L27.8 27.6 L34.5 27.6" stroke-width="2"/></g></svg>
<svg class="abs" style="left:645px;top:633px" width="50" height="50" viewBox="0 0 50 50"><g fill="none" stroke="#22b3c0" stroke-width="2.5" stroke-linecap="round" stroke-linejoin="round"><path d="M12.8 35.3 L32.8 35.3 Q34.9 35.3 34.8 33.2 C34.4 25 33.4 18 31 13.5 C29.5 10.8 27.6 9.7 25.9 9.7 C23.6 9.7 22.1 12 21.4 15.5 L20.2 22.8 C19 23.4 17.5 21 15 21 C12.5 21 11.3 23.5 10.9 27 L10.6 33 Q10.6 35.3 12.8 35.3 Z"/><path d="M8.8 22.3 C10.5 19 13 17.6 16.3 17.1 C18.4 16.7 19.2 13.5 19.9 10 M16.8 10.7 L20.3 9.1" stroke-width="2"/></g></svg>
<svg class="abs" style="left:927px;top:263px" width="50" height="50" viewBox="0 0 50 50"><path d="M22.5 7.4 C20.6 11 18 13.5 15.2 16.4 C12.2 19.5 10.6 22.5 10.9 26 C11.3 30 14 33.4 19.8 36.4 L20.5 31 C22.4 34.2 24.6 37.1 27 37.2 C30.2 37.4 35.8 33 37.3 27.2 C38.4 22.5 36 18 32.9 15 L29.6 18.4 C28.6 13.5 26.2 10 22.5 7.4 Z" fill="none" stroke="#f0802a" stroke-width="2.5" stroke-linejoin="round"/></svg>
<svg class="abs" style="left:927px;top:355px" width="50" height="50" viewBox="0 0 50 50"><g fill="none" stroke="#f0b545" stroke-width="2.3" stroke-linejoin="round"><path d="M17 8.2 C19.5 8.2 20.3 9.5 20.2 12 L19.8 21 C19.7 23.2 18.5 24.2 16.5 24.2 C14 24.2 12.5 22 11.8 19 C11 15.5 11.2 12.5 12.3 10.5 C13.3 8.8 15 8.2 17 8.2 Z"/><ellipse cx="17.5" cy="31.7" rx="2.7" ry="3.6"/><path d="M28 11.2 C31.5 11.2 34.4 14 34.5 18.5 C34.6 23.5 32.5 27.3 29 27.3 C27 27.3 26.1 26 26 24 L25.6 14.5 C25.5 12.5 26.3 11.2 28 11.2 Z"/><ellipse cx="27.9" cy="35" rx="2.8" ry="3.6"/></g></svg>
<svg class="abs" style="left:927px;top:448px" width="50" height="50" viewBox="0 0 50 50"><g fill="none" stroke="#3a7de0" stroke-width="2.5" stroke-linecap="round" stroke-linejoin="round"><path d="M17.9 9.2 C19.2 9.2 19.8 10 20.3 11.3 C21.3 13.5 23 14.6 26 14.6 L28.5 14.6 C30.2 14.6 31 16 31 17.5 L31 21.5 C31 24.5 32.3 26.5 35 27.6 C37 28.4 37.8 29.5 37.8 31 C37.8 32.8 36.3 33.8 34 33.8 L29 33.8 C27.5 33.8 26.3 33.4 25.2 32.6 L11 19.8 C10 18.9 9.8 17.6 10.8 16.5 L15.7 10.3 C16.3 9.6 17 9.2 17.9 9.2 Z"/><path d="M25.2 21.2 L29.6 21.2 M26.8 18.8 L30 18.8" stroke-width="1.5"/></g></svg>
<svg class="abs" style="left:927px;top:540px" width="50" height="50" viewBox="0 0 50 50"><g fill="#3a82f0"><path d="M19.8 12.6 Q20.5 11.3 21.3 12.6 L27.4 22.9 Q21.2 20.6 15 21.8 Z"/><path d="M13.4 25 Q17.5 23.4 21.5 24 Q25 24.6 28.8 25.2 L32.1 32.2 Q32.5 33.6 31 33.6 L11.4 33.6 Q9.9 33.6 10.4 32.2 Z"/></g><path d="M32.6 12.7 L36.4 12.7 Q37.5 12.7 37.5 13.8 L37.5 31.3 Q37.5 32.9 35.9 32.9 L33.4 32.9 M32.6 22.5 L36.2 22.5" fill="none" stroke="#3a82f0" stroke-width="2.5" stroke-linecap="round" stroke-linejoin="round"/></svg>
<svg class="abs" style="left:927px;top:633px" width="50" height="50" viewBox="0 0 50 50"><g fill="none" stroke="#22b3c0" stroke-width="2.5" stroke-linecap="round" stroke-linejoin="round"><path d="M14.4 35.4 L35.1 35.4 Q36.8 35.4 36.7 33.5 C36.3 25 35.2 18.5 32.8 14 C31.2 11 29.4 10 27.9 10 C25.5 10 24 12.5 23.3 16 L22.1 22.8 C20.8 23.3 19.5 21 17 21 C14.6 21 13.4 23.5 13 27.5 L12.6 33.5 Q12.6 35.4 14.4 35.4 Z"/><path d="M21 9.8 L18.4 17 C17.3 17.7 15.6 17.3 14 17.8 C12.6 18.3 11.4 19.6 10.6 21.2" stroke-width="2"/></g><path d="M9 19.2 L9.6 23.8 L12.8 21.4 Z" fill="#22b3c0"/></svg>
<svg class="abs" style="left:633px;top:880px" width="567" height="290" viewBox="633 880 567 290">
<defs><linearGradient id="rg" x1="0" y1="0" x2="0" y2="1" gradientUnits="objectBoundingBox"><stop offset="0" stop-color="#fcdde0"/><stop offset="0.35" stop-color="#fde3e6"/><stop offset="1" stop-color="#ffffff"/></linearGradient></defs>
<polygon points="685.8,1024.0 687.0,1017.0 691.0,1013.0 692.0,1000.0 695.0,992.0 698.0,994.0 701.0,998.5 702.5,993.0 706.0,991.0 708.0,994.0 711.0,992.5 717.0,998.5 722.0,984.0 725.0,989.0 729.0,995.0 733.0,988.5 735.0,992.0 737.0,987.0 740.0,992.0 745.0,994.5 749.0,991.0 751.0,971.0 753.0,970.0 755.0,975.0 759.0,980.0 761.0,976.5 764.0,981.0 765.0,984.5 768.0,979.0 770.0,980.0 773.0,989.0 775.5,980.5 778.0,984.0 781.0,986.5 784.0,982.0 787.0,987.0 790.0,986.5 792.0,982.0 795.0,984.0 797.0,987.5 800.0,984.5 803.0,989.0 806.0,986.0 809.0,986.0 811.0,1002.5 813.0,1002.5 815.0,988.0 817.0,986.0 819.0,976.5 821.0,980.0 823.0,988.5 824.0,982.5 828.0,988.0 832.0,986.5 835.0,991.0 837.0,986.5 840.0,990.0 843.0,994.0 846.0,990.0 849.0,991.0 851.0,995.0 855.0,999.0 857.0,1004.5 859.0,1004.0 860.0,993.0 863.0,991.0 865.0,984.5 867.0,988.5 869.0,994.5 872.0,978.5 874.0,983.5 877.0,980.0 879.0,978.0 883.0,979.5 885.0,984.0 888.0,995.0 890.0,1000.0 894.0,998.5 897.0,1002.5 899.5,1002.0 901.5,988.5 905.0,992.0 908.0,993.0 913.0,999.0 916.0,997.0 917.0,991.0 920.0,995.0 923.0,1002.0 924.5,1011.5 928.0,1009.0 931.0,991.5 935.0,999.0 938.5,997.0 941.0,985.0 944.0,978.0 946.5,983.5 948.5,974.0 952.0,972.5 957.0,971.0 960.0,979.0 963.0,981.0 966.0,989.0 968.0,986.0 971.0,992.0 973.5,993.0 975.0,997.0 980.0,1002.0 983.0,999.5 985.0,1005.5 990.0,1006.0 992.0,1005.0 995.5,1013.5 998.0,1000.5 1000.0,1003.0 1003.0,1013.0 1008.0,1020.0 1011.5,1015.0 1013.0,1008.0 1014.5,1007.0 1017.5,987.0 1021.0,989.0 1024.5,990.5 1028.0,987.0 1030.5,988.5 1032.0,992.0 1036.0,994.0 1038.0,990.0 1042.0,989.0 1045.0,998.5 1047.5,990.5 1050.0,991.0 1052.5,987.5 1055.0,992.5 1058.0,989.0 1060.0,984.0 1062.0,983.0 1064.0,973.5 1066.0,977.0 1067.5,983.0 1069.0,992.0 1071.0,995.0 1073.0,990.0 1075.0,993.0 1078.0,1004.0 1080.0,1008.0 1083.5,990.0 1086.0,990.5 1091.0,1001.0 1094.0,1001.5 1096.0,1006.0 1099.0,995.0 1101.5,1006.0 1106.0,1005.0 1109.0,998.0 1113.0,1000.0 1115.0,1003.0 1117.0,999.5 1120.0,1006.0 1124.0,1005.0 1127.0,1009.0 1129.0,1016.0 1132.5,1002.0 1136.0,1005.0 1140.0,1005.0 1142.5,1004.0 1144.5,1009.0 1146.0,1003.0 1149.0,1001.0 1151.0,997.0 1153.0,985.0 1157.0,985.0 1159.0,991.5 1162.0,989.0 1165.0,983.0 1165.0,1118.0 685.8,1118.0" fill="url(#rg)"/>
<line x1="691" y1="922.5" x2="1166" y2="922.5" stroke="#d6d6d6" stroke-width="1" stroke-dasharray="4.5 3.5"/>
<line x1="691" y1="971.5" x2="1166" y2="971.5" stroke="#d6d6d6" stroke-width="1" stroke-dasharray="4.5 3.5"/>
<line x1="691" y1="1020.5" x2="1166" y2="1020.5" stroke="#d6d6d6" stroke-width="1" stroke-dasharray="4.5 3.5"/>
<line x1="691" y1="1069.2" x2="1166" y2="1069.2" stroke="#d6d6d6" stroke-width="1" stroke-dasharray="4.5 3.5"/>
<line x1="684" y1="1118.3" x2="1166" y2="1118.3" stroke="#cfcfcf" stroke-width="1"/>
<polyline points="685.5,922.5 685.8,1024.0 687.0,1017.0 691.0,1013.0 692.0,1000.0 695.0,992.0 698.0,994.0 701.0,998.5 702.5,993.0 706.0,991.0 708.0,994.0 711.0,992.5 717.0,998.5 722.0,984.0 725.0,989.0 729.0,995.0 733.0,988.5 735.0,992.0 737.0,987.0 740.0,992.0 745.0,994.5 749.0,991.0 751.0,971.0 753.0,970.0 755.0,975.0 759.0,980.0 761.0,976.5 764.0,981.0 765.0,984.5 768.0,979.0 770.0,980.0 773.0,989.0 775.5,980.5 778.0,984.0 781.0,986.5 784.0,982.0 787.0,987.0 790.0,986.5 792.0,982.0 795.0,984.0 797.0,987.5 800.0,984.5 803.0,989.0 806.0,986.0 809.0,986.0 811.0,1002.5 813.0,1002.5 815.0,988.0 817.0,986.0 819.0,976.5 821.0,980.0 823.0,988.5 824.0,982.5 828.0,988.0 832.0,986.5 835.0,991.0 837.0,986.5 840.0,990.0 843.0,994.0 846.0,990.0 849.0,991.0 851.0,995.0 855.0,999.0 857.0,1004.5 859.0,1004.0 860.0,993.0 863.0,991.0 865.0,984.5 867.0,988.5 869.0,994.5 872.0,978.5 874.0,983.5 877.0,980.0 879.0,978.0 883.0,979.5 885.0,984.0 888.0,995.0 890.0,1000.0 894.0,998.5 897.0,1002.5 899.5,1002.0 901.5,988.5 905.0,992.0 908.0,993.0 913.0,999.0 916.0,997.0 917.0,991.0 920.0,995.0 923.0,1002.0 924.5,1011.5 928.0,1009.0 931.0,991.5 935.0,999.0 938.5,997.0 941.0,985.0 944.0,978.0 946.5,983.5 948.5,974.0 952.0,972.5 957.0,971.0 960.0,979.0 963.0,981.0 966.0,989.0 968.0,986.0 971.0,992.0 973.5,993.0 975.0,997.0 980.0,1002.0 983.0,999.5 985.0,1005.5 990.0,1006.0 992.0,1005.0 995.5,1013.5 998.0,1000.5 1000.0,1003.0 1003.0,1013.0 1008.0,1020.0 1011.5,1015.0 1013.0,1008.0 1014.5,1007.0 1017.5,987.0 1021.0,989.0 1024.5,990.5 1028.0,987.0 1030.5,988.5 1032.0,992.0 1036.0,994.0 1038.0,990.0 1042.0,989.0 1045.0,998.5 1047.5,990.5 1050.0,991.0 1052.5,987.5 1055.0,992.5 1058.0,989.0 1060.0,984.0 1062.0,983.0 1064.0,973.5 1066.0,977.0 1067.5,983.0 1069.0,992.0 1071.0,995.0 1073.0,990.0 1075.0,993.0 1078.0,1004.0 1080.0,1008.0 1083.5,990.0 1086.0,990.5 1091.0,1001.0 1094.0,1001.5 1096.0,1006.0 1099.0,995.0 1101.5,1006.0 1106.0,1005.0 1109.0,998.0 1113.0,1000.0 1115.0,1003.0 1117.0,999.5 1120.0,1006.0 1124.0,1005.0 1127.0,1009.0 1129.0,1016.0 1132.5,1002.0 1136.0,1005.0 1140.0,1005.0 1142.5,1004.0 1144.5,1009.0 1146.0,1003.0 1149.0,1001.0 1151.0,997.0 1153.0,985.0 1157.0,985.0 1159.0,991.5 1162.0,989.0 1165.0,983.0" fill="none" stroke="#f2585d" stroke-width="3.1" stroke-linejoin="round" stroke-linecap="round"/>
</svg>
<svg class="abs" style="left:670px;top:1190px" width="200" height="200" viewBox="670 1190 200 200">
<circle cx="769.8" cy="1287.5" r="78.2" fill="none" stroke="#3bb5f6" stroke-width="22.3"/>
<path d="M846.76 1273.65 A78.20 78.20 0 0 1 847.45 1296.76" fill="none" stroke="#14cc64" stroke-width="22.3"/>
<path d="M845.58 1268.18 A78.20 78.20 0 0 1 846.48 1272.18" fill="none" stroke="#f07a3c" stroke-width="22.3"/>
<line x1="835.39" y1="1295.32" x2="859.51" y2="1298.20" stroke="#fff" stroke-width="1.2"/>
<line x1="834.70" y1="1275.24" x2="858.58" y2="1270.73" stroke="#fff" stroke-width="1.2"/>
<line x1="833.72" y1="1270.85" x2="857.23" y2="1264.73" stroke="#fff" stroke-width="1.2"/>
</svg>
<div class="abs" style="left:892px;top:1213.9px;width:8px;height:8px;border-radius:50%;background:#ec4656"></div>
<div class="abs" style="left:892px;top:1249.2px;width:8px;height:8px;border-radius:50%;background:#f07a3c"></div>
<div class="abs" style="left:892px;top:1284.6px;width:8px;height:8px;border-radius:50%;background:#f5a623"></div>
<div class="abs" style="left:892px;top:1320.0px;width:8px;height:8px;border-radius:50%;background:#14c45e"></div>
<div class="abs" style="left:892px;top:1355.3px;width:8px;height:8px;border-radius:50%;background:#3bb0f0"></div>
<div id="l1" class="t" style="top:10.09px;font-size:32.50px;line-height:32.50px;color:#e3e3e3;left:28.02px;transform:scaleX(0.9755);transform-origin:left;-webkit-text-stroke:0.9px #e3e3e3">Google Fitbit</div>
<div id="l2" class="t" style="top:61.83px;font-size:38.00px;line-height:38.00px;color:#e3e3e3;left:30.00px;transform:scaleX(0.9880);transform-origin:left">Walk</div>
<div id="l3" class="t" style="top:122.85px;font-size:21.80px;line-height:21.80px;color:#e3e3e3;-webkit-text-stroke:0.45px #e3e3e3;left:29.00px;transform:scaleX(1.1267);transform-origin:left">9 October 2025</div>
<div id="l4" class="t" style="top:220.06px;font-size:18.60px;line-height:18.60px;color:#e3e3e3;-webkit-text-stroke:0.45px #e3e3e3;left:29.00px;transform:scaleX(1.0625);transform-origin:left">Steps</div>
<div id="l5" class="t" style="top:194.79px;font-size:37.70px;line-height:37.70px;color:#e3e3e3;right:611.08px;transform:scaleX(0.9468);transform-origin:right">3,763</div>
<div id="l6" class="t" style="top:247.50px;font-size:18.90px;line-height:18.90px;color:#c4c7c5;right:611.96px;transform:scaleX(1.0788);transform-origin:right">62% of your goal</div>
<div id="l7" class="t" style="top:335.96px;font-size:18.60px;line-height:18.60px;color:#e3e3e3;-webkit-text-stroke:0.45px #e3e3e3;left:27.88px;transform:scaleX(1.1158);transform-origin:left">Energy burned</div>
<div id="l8" class="t" style="top:310.29px;font-size:37.70px;line-height:37.70px;color:#e3e3e3;right:611.24px;transform:scaleX(0.9034);transform-origin:right">277 cal</div>
<div id="l9" class="t" style="top:363.00px;font-size:18.90px;line-height:18.90px;color:#c4c7c5;right:610.98px;transform:scaleX(1.0397);transform-origin:right">11% of your goal</div>
<div id="l10" class="t" style="top:451.76px;font-size:18.60px;line-height:18.60px;color:#e3e3e3;-webkit-text-stroke:0.45px #e3e3e3;left:29.00px;transform:scaleX(1.0649);transform-origin:left">Zone min</div>
<div id="l11" class="t" style="top:426.29px;font-size:37.70px;line-height:37.70px;color:#e3e3e3;right:612.55px;transform:scaleX(1.0871);transform-origin:right">6</div>
<div id="l12" class="t" style="top:479.00px;font-size:18.90px;line-height:18.90px;color:#c4c7c5;right:611.96px;transform:scaleX(1.0681);transform-origin:right">27% of your goal</div>
<div id="l13" class="t" style="top:551.26px;font-size:18.60px;line-height:18.60px;color:#e3e3e3;-webkit-text-stroke:0.45px #e3e3e3;left:30.09px;transform:scaleX(1.0870);transform-origin:left">Average pace</div>
<div id="l14" class="t" style="top:541.79px;font-size:37.70px;line-height:37.70px;color:#e3e3e3;right:611.22px;transform:scaleX(0.9129);transform-origin:right">17&#x27;50&quot; /km</div>
<div id="s1" class="t" style="top:713.68px;font-size:37.00px;line-height:37.00px;color:#e3e3e3;left:-113.00px;width:400px;text-align:center">2.89</div>
<div id="s2" class="t" style="top:765.49px;font-size:19.50px;line-height:19.50px;color:#e3e3e3;left:-112.50px;width:400px;text-align:center">km</div>
<div id="s3" class="t" style="top:713.68px;font-size:37.00px;line-height:37.00px;color:#e3e3e3;left:184.16px;transform:scaleX(0.8411);transform-origin:left">51</div>
<div id="s4" class="t" style="top:728.66px;font-size:19.30px;line-height:19.30px;color:#e3e3e3;left:223.88px;transform:scaleX(0.9233);transform-origin:left">min</div>
<div id="s5" class="t" style="top:765.49px;font-size:19.50px;line-height:19.50px;color:#e3e3e3;left:18.00px;width:400px;text-align:center;transform:scaleX(1.0556);transform-origin:center">Duration</div>
<div id="s6" class="t" style="top:713.68px;font-size:37.00px;line-height:37.00px;color:#e3e3e3;left:163.00px;width:400px;text-align:center;transform:scaleX(0.9950);transform-origin:center">17&#x27;50&quot;</div>
<div id="s7" class="t" style="top:765.49px;font-size:19.50px;line-height:19.50px;color:#e3e3e3;left:163.50px;width:400px;text-align:center">Pace</div>
<div id="s8" class="t" style="top:713.68px;font-size:37.00px;line-height:37.00px;color:#e3e3e3;left:315.00px;width:400px;text-align:center;transform:scaleX(0.9556);transform-origin:center">3,763</div>
<div id="s9" class="t" style="top:765.49px;font-size:19.50px;line-height:19.50px;color:#e3e3e3;left:314.99px;width:400px;text-align:center;transform:scaleX(1.0105);transform-origin:center">Steps</div>
<div id="h1" class="t" style="top:828.72px;font-size:22.30px;line-height:22.30px;color:#e3e3e3;-webkit-text-stroke:0.45px #e3e3e3;left:17.91px;transform:scaleX(1.0927);transform-origin:left">Heart rate zones</div>
<div id="h2" class="t" style="top:887.36px;font-size:61.00px;line-height:61.00px;color:#e3e3e3;left:16.95px;transform:scaleX(1.0161);transform-origin:left">92</div>
<div id="h3" class="t" style="top:921.07px;font-size:20.00px;line-height:20.00px;color:#e3e3e3;left:90.79px;transform:scaleX(1.0091);transform-origin:left">bpm (avg)</div>
<div id="y0" class="t" style="top:1024.70px;font-size:17.60px;line-height:17.60px;color:#c4c7c5;left:501.74px;transform:scaleX(0.8929);transform-origin:left">185</div>
<div id="y1" class="t" style="top:1067.10px;font-size:17.60px;line-height:17.60px;color:#c4c7c5;left:501.74px;transform:scaleX(0.8929);transform-origin:left">156</div>
<div id="y2" class="t" style="top:1111.80px;font-size:17.60px;line-height:17.60px;color:#c4c7c5;left:501.74px;transform:scaleX(0.8929);transform-origin:left">126</div>
<div id="y3" class="t" style="top:1146.50px;font-size:17.60px;line-height:17.60px;color:#c4c7c5;left:501.70px;transform:scaleX(0.9331);transform-origin:left">102</div>
<div id="y4" class="t" style="top:1252.60px;font-size:17.60px;line-height:17.60px;color:#c4c7c5;left:503.00px">30</div>
<div id="x1" class="t" style="top:1283.88px;font-size:16.80px;line-height:16.80px;color:#c4c7c5;left:8.20px;transform:scaleX(1.0661);transform-origin:left">08:39</div>
<div id="x2" class="t" style="top:1284.48px;font-size:16.80px;line-height:16.80px;color:#c4c7c5;left:455.00px;transform:scaleX(0.9815);transform-origin:left">09:31</div>
<div id="g1" class="t" style="top:1329.52px;font-size:19.00px;line-height:19.00px;color:#c4c7c5;left:68.34px;transform:scaleX(1.0606);transform-origin:left">Light</div>
<div id="g2" class="t" style="top:1329.52px;font-size:19.00px;line-height:19.00px;color:#c4c7c5;left:169.53px;transform:scaleX(1.0836);transform-origin:left">Moderate</div>
<div id="g3" class="t" style="top:1329.52px;font-size:19.00px;line-height:19.00px;color:#c4c7c5;left:312.58px;transform:scaleX(1.0434);transform-origin:left">Vigorous</div>
<div id="g4" class="t" style="top:1329.52px;font-size:19.00px;line-height:19.00px;color:#c4c7c5;left:446.78px;transform:scaleX(0.9958);transform-origin:left">Peak</div>
<div id="r1" class="t" style="top:75.65px;font-size:20.50px;line-height:20.50px;color:#262626;left:646.93px;transform:scaleX(1.0742);transform-origin:left">Outdoor walk</div>
<div id="r2" class="t" style="top:165.67px;font-size:41.50px;line-height:41.50px;color:#1a1a1a;font-weight:700;left:646.99px;transform:scaleX(1.0146);transform-origin:left">3.13</div>
<div id="r3" class="t" style="top:185.56px;font-size:18.00px;line-height:18.00px;color:#8a8a8a;left:740.54px;transform:scaleX(1.0455);transform-origin:left">km</div>
<div id="r4" class="t" style="top:187.60px;font-size:21.50px;line-height:21.50px;color:#808080;right:12.60px;transform:scaleX(1.0041);transform-origin:right">9 Oct 2025 08:39:08</div>
<div id="ga0" class="t" style="top:258.66px;font-size:17.30px;line-height:17.30px;color:#8a8a8a;left:699.93px;transform:scaleX(1.0367);transform-origin:left">Exercise duration</div>
<div id="gb0" class="t" style="top:258.66px;font-size:17.30px;line-height:17.30px;color:#8a8a8a;left:983.16px;transform:scaleX(1.0283);transform-origin:left">Calories</div>
<div id="va0" class="t" style="top:286.05px;font-size:29.00px;line-height:29.00px;color:#2a2a2a;left:699.99px;transform:scaleX(1.0260);transform-origin:left">00:51:38</div>
<div id="vb0" class="t" style="top:286.05px;font-size:29.00px;line-height:29.00px;color:#2a2a2a;left:983.17px;transform:scaleX(1.0311);transform-origin:left">253.0</div>
<div id="ub0" class="t" style="top:296.04px;font-size:17.20px;line-height:17.20px;color:#8a8a8a;left:1065.31px;transform:scaleX(1.1114);transform-origin:left">kcal</div>
<div id="ga1" class="t" style="top:351.36px;font-size:17.30px;line-height:17.30px;color:#8a8a8a;left:700.02px;transform:scaleX(1.0188);transform-origin:left">Avg. pace</div>
<div id="gb1" class="t" style="top:351.36px;font-size:17.30px;line-height:17.30px;color:#8a8a8a;left:983.17px;transform:scaleX(1.0203);transform-origin:left">Cadence</div>
<div id="va1" class="t" style="top:378.75px;font-size:29.00px;line-height:29.00px;color:#2a2a2a;left:698.97px;transform:scaleX(1.0168);transform-origin:left">16&#x27;31&quot;</div>
<div id="ua1" class="t" style="top:388.74px;font-size:17.20px;line-height:17.20px;color:#8a8a8a;left:788.00px;transform:scaleX(1.1687);transform-origin:left">/km</div>
<div id="vb1" class="t" style="top:378.75px;font-size:29.00px;line-height:29.00px;color:#2a2a2a;left:983.23px;transform:scaleX(0.9642);transform-origin:left">71</div>
<div id="ub1" class="t" style="top:388.74px;font-size:17.20px;line-height:17.20px;color:#8a8a8a;left:1023.47px;transform:scaleX(1.1035);transform-origin:left">Step/min</div>
<div id="ga2" class="t" style="top:443.46px;font-size:17.30px;line-height:17.30px;color:#8a8a8a;left:699.99px;transform:scaleX(1.0308);transform-origin:left">Stride</div>
<div id="gb2" class="t" style="top:443.46px;font-size:17.30px;line-height:17.30px;color:#8a8a8a;left:983.16px;transform:scaleX(1.0269);transform-origin:left">Step count</div>
<div id="va2" class="t" style="top:470.25px;font-size:29.00px;line-height:29.00px;color:#2a2a2a;left:699.98px;transform:scaleX(1.0198);transform-origin:left">84</div>
<div id="ua2" class="t" style="top:480.24px;font-size:17.20px;line-height:17.20px;color:#8a8a8a;left:739.76px;transform:scaleX(1.1054);transform-origin:left">cm</div>
<div id="vb2" class="t" style="top:470.25px;font-size:29.00px;line-height:29.00px;color:#2a2a2a;left:983.16px;transform:scaleX(1.0502);transform-origin:left">3699</div>
<div id="ub2" class="t" style="top:480.24px;font-size:17.20px;line-height:17.20px;color:#8a8a8a;left:1057.56px;transform:scaleX(1.0338);transform-origin:left">Steps</div>
<div id="ga3" class="t" style="top:536.56px;font-size:17.30px;line-height:17.30px;color:#8a8a8a;left:699.91px;transform:scaleX(1.0449);transform-origin:left">Heart rate</div>
<div id="gb3" class="t" style="top:536.56px;font-size:17.30px;line-height:17.30px;color:#8a8a8a;left:983.12px;transform:scaleX(1.0682);transform-origin:left">Highest altitude</div>
<div id="va3" class="t" style="top:563.45px;font-size:29.00px;line-height:29.00px;color:#2a2a2a;left:699.97px;transform:scaleX(1.0527);transform-origin:left">92</div>
<div id="ua3" class="t" style="top:573.44px;font-size:17.20px;line-height:17.20px;color:#8a8a8a;left:739.72px;transform:scaleX(1.1174);transform-origin:left">bpm</div>
<div id="vb3" class="t" style="top:563.45px;font-size:29.00px;line-height:29.00px;color:#2a2a2a;left:983.27px;transform:scaleX(0.9389);transform-origin:left">-9</div>
<div id="ub3" class="t" style="top:573.44px;font-size:17.20px;line-height:17.20px;color:#8a8a8a;left:1015.46px;transform:scaleX(1.0824);transform-origin:left">m</div>
<div id="ga4" class="t" style="top:628.66px;font-size:17.30px;line-height:17.30px;color:#8a8a8a;left:699.94px;transform:scaleX(1.0248);transform-origin:left">Elevation gain</div>
<div id="gb4" class="t" style="top:628.66px;font-size:17.30px;line-height:17.30px;color:#8a8a8a;left:984.19px;transform:scaleX(1.0532);transform-origin:left">Total descent</div>
<div id="va4" class="t" style="top:655.35px;font-size:29.00px;line-height:29.00px;color:#2a2a2a;left:699.97px;transform:scaleX(1.0021);transform-origin:left">70</div>
<div id="ua4" class="t" style="top:665.34px;font-size:17.20px;line-height:17.20px;color:#8a8a8a;left:738.80px;transform:scaleX(1.1960);transform-origin:left">m</div>
<div id="vb4" class="t" style="top:655.35px;font-size:29.00px;line-height:29.00px;color:#2a2a2a;left:983.19px;transform:scaleX(1.0102);transform-origin:left">67</div>
<div id="ub4" class="t" style="top:665.34px;font-size:17.20px;line-height:17.20px;color:#8a8a8a;left:1023.44px;transform:scaleX(1.0958);transform-origin:left">m</div>
<div id="c1" class="t" style="top:737.80px;font-size:43.00px;line-height:43.00px;color:#222222;left:660.08px;transform:scaleX(0.9666);transform-origin:left">Heart rate</div>
<div id="c2" class="t" style="top:758.12px;font-size:19.00px;line-height:19.00px;color:#8c8c8c;left:854.99px;transform:scaleX(1.0049);transform-origin:left">bpm</div>
<div id="c3" class="t" style="top:817.73px;font-size:17.80px;line-height:17.80px;color:#8a8a8a;left:581.82px;width:400px;text-align:center;transform:scaleX(1.0237);transform-origin:center">Maximum heart rate</div>
<div id="c4" class="t" style="top:849.58px;font-size:22.00px;line-height:22.00px;color:#222222;left:582.27px;width:400px;text-align:center;transform:scaleX(0.9731);transform-origin:center">145</div>
<div id="c5" class="t" style="top:817.73px;font-size:17.80px;line-height:17.80px;color:#8a8a8a;left:852.08px;width:400px;text-align:center;transform:scaleX(0.9942);transform-origin:center">Avg. heart rate</div>
<div id="c6" class="t" style="top:849.58px;font-size:22.00px;line-height:22.00px;color:#222222;left:852.64px;width:400px;text-align:center;transform:scaleX(1.0580);transform-origin:center">92</div>
<div id="cy0" class="t" style="top:915.50px;font-size:13.00px;line-height:13.00px;color:#ababab;right:521.87px;transform:scaleX(1.1267);transform-origin:right">145</div>
<div id="cy1" class="t" style="top:964.50px;font-size:13.00px;line-height:13.00px;color:#ababab;right:521.87px;transform:scaleX(1.1267);transform-origin:right">109</div>
<div id="cy2" class="t" style="top:1013.50px;font-size:13.00px;line-height:13.00px;color:#ababab;right:522.78px;transform:scaleX(1.1584);transform-origin:right">72</div>
<div id="cy3" class="t" style="top:1062.30px;font-size:13.00px;line-height:13.00px;color:#ababab;right:522.82px;transform:scaleX(1.1649);transform-origin:right">36</div>
<div id="cy4" class="t" style="top:1111.00px;font-size:13.00px;line-height:13.00px;color:#ababab;right:523.00px">0</div>
<div id="cx0" class="t" style="top:1126.08px;font-size:15.50px;line-height:15.50px;color:#adadad;left:484.00px;width:400px;text-align:center;transform:scaleX(1.0526);transform-origin:center">00:00</div>
<div id="cx1" class="t" style="top:1126.08px;font-size:15.50px;line-height:15.50px;color:#adadad;left:603.79px;width:400px;text-align:center;transform:scaleX(1.0652);transform-origin:center">12:52</div>
<div id="cx2" class="t" style="top:1126.08px;font-size:15.50px;line-height:15.50px;color:#adadad;left:725.80px;width:400px;text-align:center;transform:scaleX(1.0900);transform-origin:center">25:45</div>
<div id="cx3" class="t" style="top:1126.08px;font-size:15.50px;line-height:15.50px;color:#adadad;left:846.60px;width:400px;text-align:center;transform:scaleX(1.0763);transform-origin:center">38:37</div>
<div id="cx4" class="t" style="top:1126.08px;font-size:15.50px;line-height:15.50px;color:#adadad;left:965.41px;width:400px;text-align:center;transform:scaleX(1.0742);transform-origin:center">51:30</div>
<div id="lg0" class="t" style="top:1210.39px;font-size:17.50px;line-height:17.50px;color:#2a2a2a;left:908.57px;transform:scaleX(1.0178);transform-origin:left">Extreme</div>
<div id="lp0" class="t" style="top:1210.39px;font-size:17.50px;line-height:17.50px;color:#2a2a2a;right:28.00px;transform:scaleX(0.8943);transform-origin:right">0 %</div>
<div id="lg1" class="t" style="top:1245.74px;font-size:17.50px;line-height:17.50px;color:#2a2a2a;left:909.61px;transform:scaleX(1.0174);transform-origin:left">Anaerobic endurance</div>
<div id="lp1" class="t" style="top:1245.74px;font-size:17.50px;line-height:17.50px;color:#2a2a2a;right:28.00px;transform:scaleX(0.8966);transform-origin:right">1 %</div>
<div id="lg2" class="t" style="top:1281.09px;font-size:17.50px;line-height:17.50px;color:#2a2a2a;left:909.61px;transform:scaleX(1.0184);transform-origin:left">Aerobic endurance</div>
<div id="lp2" class="t" style="top:1281.09px;font-size:17.50px;line-height:17.50px;color:#2a2a2a;right:28.00px;transform:scaleX(0.8943);transform-origin:right">0 %</div>
<div id="lg3" class="t" style="top:1316.44px;font-size:17.50px;line-height:17.50px;color:#2a2a2a;left:908.57px;transform:scaleX(1.0254);transform-origin:left">Fat burning</div>
<div id="lp3" class="t" style="top:1316.44px;font-size:17.50px;line-height:17.50px;color:#2a2a2a;right:28.00px;transform:scaleX(0.8667);transform-origin:right">5 %</div>
<div id="lg4" class="t" style="top:1351.79px;font-size:17.50px;line-height:17.50px;color:#2a2a2a;left:909.59px">Warm-up</div>
<div id="lp4" class="t" style="top:1351.79px;font-size:17.50px;line-height:17.50px;color:#2a2a2a;right:28.00px;transform:scaleX(0.9281);transform-origin:right">94 %</div>
</body></html>
